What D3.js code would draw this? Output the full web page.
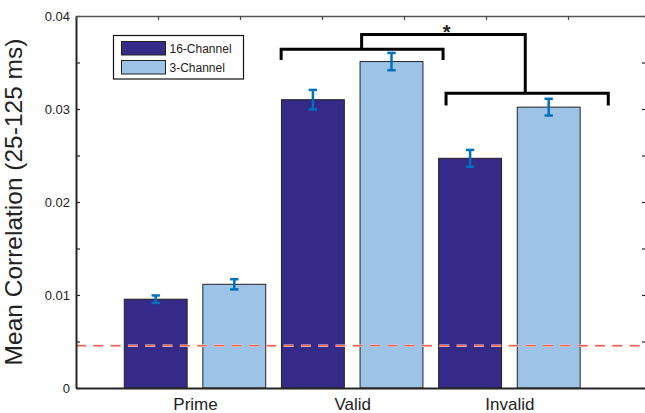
<!DOCTYPE html>
<html>
<head>
<meta charset="utf-8">
<script src="https://cdn.jsdelivr.net/npm/d3@7"></script>
<style>
  body { margin: 0; background: #fff; }
  text { font-family: "Liberation Sans", Arial, sans-serif; fill: #222; }
</style>
</head>
<body>
<div class="chart"></div>
<script>
// chart data
var categories = ["Prime", "Valid", "Invalid"];
var seriesNames = ["16-Channel", "3-Channel"];
var channel16 = [0.00955, 0.0310, 0.0247];
var channel3 = [0.01115, 0.0351, 0.0302];
var err16 = [0.0004, 0.00105, 0.0009];
var err3 = [0.00055, 0.00093, 0.0009];
var chanceLevel = 0.00455;
var yTicks = [0, 0.01, 0.02, 0.03, 0.04];
var yMinorTicks = [0, 0.005, 0.01, 0.015, 0.02, 0.025, 0.03, 0.035, 0.04];

// significance brackets (x in category units, y in correlation units)
var bracketValid = {x0: 1.548, x1: 2.578, y: 0.03642, tip: 0.03527};
var bracketInvalid = {x0: 2.597, x1: 3.629, y: 0.03169, tip: 0.03038};
var bracketTop = {x0: 2.060, x1: 3.101, y: 0.0380};
var starPos = {x: 2.601, y: 0.03755};

// dimensions
var margin = {top: 16, left: 76},
    width = 570,
    height = 372;

var svg = d3.select(".chart")
    .append("svg")
    .attr("width", 645)
    .attr("height", 413);

var g = svg.append("g")
    .attr("transform", "translate(" + margin.left + "," + margin.top + ")");

// scales
var x = d3.scaleLinear()
    .domain([0.243, 3.869])
    .range([0, width]);

var y = d3.scaleLinear()
    .domain([0, 0.04])
    .range([height, 0]);

var xTop = d3.scaleLinear()
    .domain([0, 7])
    .range([0, 574]);

var colors = ["#352a87", "#9dc3e6"];
var offsets = [-0.25, 0.25];
var barW = 0.4;

var rows = [];
categories.forEach(function(c, i) {
    rows.push({cat: i + 1, s: 0, v: channel16[i], e: err16[i]});
    rows.push({cat: i + 1, s: 1, v: channel3[i], e: err3[i]});
});

// bars
g.selectAll(".bar")
    .data(rows)
    .enter().append("rect")
    .attr("class", "bar")
    .attr("x", function(d) { return x(d.cat + offsets[d.s] - barW / 2); })
    .attr("width", function(d) { return x(d.cat + barW) - x(d.cat); })
    .attr("y", function(d) { return y(d.v); })
    .attr("height", function(d) { return y(0) - y(d.v); })
    .attr("fill", function(d) { return colors[d.s]; })
    .attr("stroke", "#222")
    .attr("stroke-width", 1);

// chance line
g.append("line")
    .attr("x1", 0).attr("x2", width)
    .attr("y1", y(chanceLevel)).attr("y2", y(chanceLevel))
    .attr("stroke", "#fbd0c8")
    .attr("stroke-width", 2.4)
    .attr("stroke-dasharray", "10,7.3");
g.append("line")
    .attr("x1", 0).attr("x2", width)
    .attr("y1", y(chanceLevel)).attr("y2", y(chanceLevel))
    .attr("stroke", "#e33c34")
    .attr("stroke-width", 1.1)
    .attr("stroke-dasharray", "10,7.3");

// error bars
var eb = g.selectAll(".err")
    .data(rows)
    .enter().append("g")
    .attr("class", "err")
    .attr("stroke", "#0072bd")
    .attr("stroke-width", 2.5);

eb.append("line")
    .attr("x1", function(d) { return x(d.cat + offsets[d.s]); })
    .attr("x2", function(d) { return x(d.cat + offsets[d.s]); })
    .attr("y1", function(d) { return y(d.v - d.e); })
    .attr("y2", function(d) { return y(d.v + d.e); });

[-1, 1].forEach(function(sign) {
    eb.append("line")
        .attr("x1", function(d) { return x(d.cat + offsets[d.s]) - 4.2; })
        .attr("x2", function(d) { return x(d.cat + offsets[d.s]) + 4.2; })
        .attr("y1", function(d) { return y(d.v + sign * d.e); })
        .attr("y2", function(d) { return y(d.v + sign * d.e); });
});

// axes
var yAxis = d3.axisLeft(y)
    .tickValues(yMinorTicks)
    .tickSizeInner(-4)
    .tickSizeOuter(0)
    .tickPadding(6)
    .tickFormat(function(d) { return yTicks.indexOf(d) >= 0 ? (d === 0 ? "0" : d3.format(".2f")(d)) : ""; });

var ya = g.append("g").call(yAxis);
ya.select(".domain").attr("stroke", "#262626").attr("stroke-width", 2);
ya.selectAll(".tick line").attr("stroke", "#262626").attr("stroke-width", 1.2);
ya.selectAll("text").style("font-size", "13px").attr("fill", "#222");

var yr = g.append("g")
    .attr("transform", "translate(" + width + ",0)")
    .call(d3.axisRight(y).tickValues(yMinorTicks).tickSizeInner(-4).tickSizeOuter(0).tickFormat(""));
yr.selectAll(".tick line").attr("stroke", "#262626").attr("stroke-width", 1.2);

var xt = g.append("g")
    .call(d3.axisTop(xTop).ticks(7).tickSizeInner(-4).tickSizeOuter(0).tickFormat(""));
xt.select(".domain").attr("stroke", "#555").attr("stroke-width", 1.5);
xt.selectAll(".tick line").attr("stroke", "#444").attr("stroke-width", 1.2);

var xb = g.append("g")
    .attr("transform", "translate(0," + height + ")")
    .call(d3.axisBottom(x).tickValues([1, 2, 3]).tickSize(0).tickPadding(10)
        .tickFormat(function(d) { return categories[d - 1]; }));
xb.select(".domain").attr("stroke", "#262626").attr("stroke-width", 2);
xb.selectAll("text").style("font-size", "17px").attr("fill", "#222");

// y label
g.append("text")
    .attr("transform", "translate(-54," + (height / 2) + ") rotate(-90)")
    .attr("text-anchor", "middle")
    .style("font-size", "24.5px")
    .text("Mean Correlation (25-125 ms)");

// significance brackets
function bracketPath(b) {
    return "M" + x(b.x0) + "," + y(b.tip) +
           "V" + y(b.y) + "H" + x(b.x1) + "V" + y(b.tip);
}
g.append("path")
    .attr("d", bracketPath(bracketValid))
    .attr("fill", "none").attr("stroke", "#000").attr("stroke-width", 3);
g.append("path")
    .attr("d", bracketPath(bracketInvalid))
    .attr("fill", "none").attr("stroke", "#000").attr("stroke-width", 3);
g.append("path")
    .attr("d", "M" + x(bracketTop.x0) + "," + y(bracketValid.y) +
               "V" + y(bracketTop.y) + "H" + x(bracketTop.x1) + "V" + y(bracketInvalid.y))
    .attr("fill", "none").attr("stroke", "#000").attr("stroke-width", 3);
g.append("text")
    .attr("x", x(starPos.x))
    .attr("y", y(starPos.y))
    .attr("text-anchor", "middle")
    .style("font-size", "20px")
    .style("font-weight", "bold")
    .text("*");

// legend
var legend = svg.append("g").attr("transform", "translate(113.5,35.5)");
legend.append("rect")
    .attr("width", 130).attr("height", 43.5)
    .attr("fill", "#fff").attr("stroke", "#111").attr("stroke-width", 1.2);
seriesNames.forEach(function(name, i) {
    legend.append("rect")
        .attr("x", 8).attr("y", 6 + i * 19)
        .attr("width", 44).attr("height", 13.5)
        .attr("fill", colors[i]).attr("stroke", "#222").attr("stroke-width", 1);
    legend.append("text")
        .attr("x", 56).attr("y", 17 + i * 19)
        .style("font-size", "12px")
        .text(name);
});
</script>
</body>
</html>
